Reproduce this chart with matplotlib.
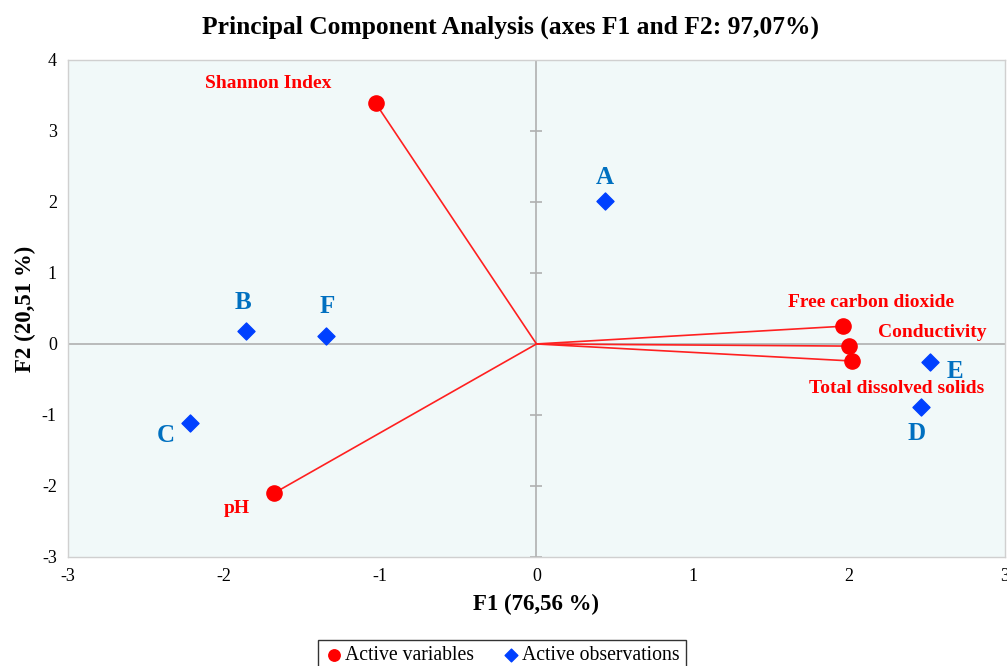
import numpy as np
import matplotlib.pyplot as plt

plt.rcParams['font.family'] = ['Liberation Serif', 'DejaVu Serif']
plt.rcParams['axes.unicode_minus'] = False

# active variables (loadings, scaled)
var_names = ['Shannon Index', 'pH', 'Free carbon dioxide', 'Conductivity', 'Total dissolved solids']
var_f1 = [-1.03, -1.68, 1.965, 2.00, 2.02]
var_f2 = [3.39, -2.10, 0.25, -0.03, -0.24]

# active observations
obs_names = ['A', 'B', 'C', 'D', 'E', 'F']
obs_f1 = [0.44, -1.86, -2.22, 2.46, 2.52, -1.35]
obs_f2 = [2.01, 0.18, -1.11, -0.89, -0.25, 0.11]

xticks = [-3, -2, -1, 0, 1, 2, 3]
yticks = [-3, -2, -1, 0, 1, 2, 3, 4]

# label offsets in points (dx, dy)
var_off = [(-77, 14), (-27, -11), (20, 17), (60, 10), (32, -20)]
obs_off = [(0, 17), (-2, 21), (-17, -9), (-3, -19), (18, -7), (1, 21)]

fig = plt.figure(figsize=(10.07, 6.66), dpi=100)
ax = fig.add_axes([0.0675, 0.1637, 0.9305, 0.7463])
ax.set_facecolor('#f1f9f9')
for s in ax.spines.values():
    s.set_color('#d0d0d0')
    s.set_linewidth(1)

ax.axhline(0, color='#b0b0b0', lw=1.2, zorder=1)
ax.axvline(0, color='#b0b0b0', lw=1.2, zorder=1)
# small tick marks on the vertical zero line
ax.plot([0] * len(yticks), yticks, ls='none', marker='_', ms=9, mew=1.2, color='#b0b0b0', zorder=1)

for x, y in zip(var_f1, var_f2):
    ax.plot([0, x], [0, y], color='#ff2020', lw=1.2, zorder=2)
ax.scatter(var_f1, var_f2, s=120, color='#ff0000', zorder=3, label='Active variables')
ax.scatter(obs_f1, obs_f2, s=75, marker='D', color='#0040ff', zorder=3, label='Active observations')

for n, x, y, o in zip(var_names, var_f1, var_f2, var_off):
    ax.annotate(n, (x, y), xytext=o, textcoords='offset points', ha='center', va='center',
                color='#ff0000', fontsize=14, fontweight='bold')
for n, x, y, o in zip(obs_names, obs_f1, obs_f2, obs_off):
    ax.annotate(n, (x, y), xytext=o, textcoords='offset points', ha='center', va='center',
                color='#0070c0', fontsize=18, fontweight='bold')

ax.set_xlim(-3, 3)
ax.set_ylim(-3, 4)
ax.set_xticks(xticks)
ax.set_yticks(yticks)
ax.tick_params(length=0, labelsize=13, pad=8)
ax.set_xlabel('F1 (76,56 %)', fontsize=16.5, fontweight='bold', labelpad=6)
ax.set_ylabel('F2 (20,51 %)', fontsize=16.5, fontweight='bold', labelpad=4)
fig.text(0.507, 0.959, 'Principal Component Analysis (axes F1 and F2: 97,07%)',
         ha='center', va='center', fontsize=18.4, fontweight='bold')

leg = ax.legend(loc='upper center', bbox_to_anchor=(0.463, -0.147), ncol=2, fontsize=14.2,
                frameon=True, fancybox=False, edgecolor='black', handletextpad=0.05,
                columnspacing=1.4, borderpad=0.3, handlelength=1.0, markerscale=0.75)
leg.get_frame().set_linewidth(1)

fig.savefig('out.png', dpi=100)
